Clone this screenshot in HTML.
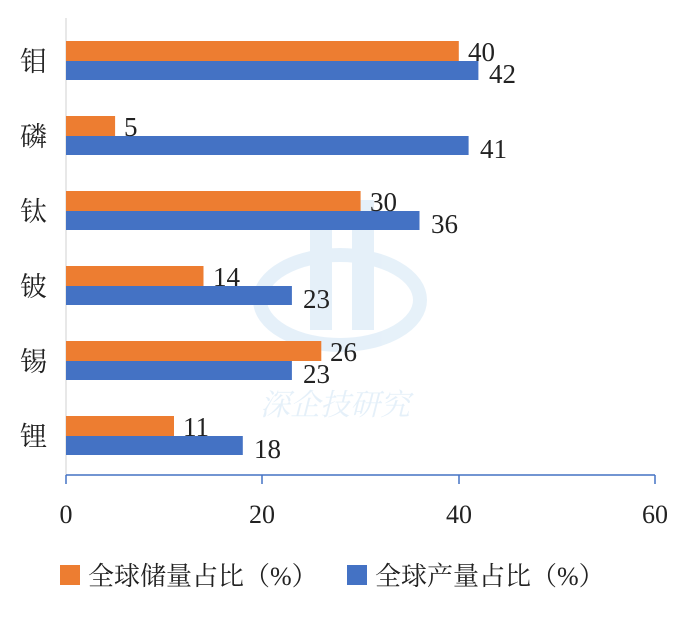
<!DOCTYPE html>
<html><head><meta charset="utf-8"><style>
body{margin:0;background:#fff;}
svg text{font-family:"Liberation Serif","Noto Serif CJK SC",serif;fill:#222;}
</style></head><body>
<svg width="681" height="615" viewBox="0 0 681 615" xmlns="http://www.w3.org/2000/svg">
<g opacity="0.15" fill="#5aa0d8">
<ellipse cx="340" cy="300" rx="80" ry="45" fill="none" stroke="#5aa0d8" stroke-width="14"/>
<rect x="310" y="200" width="22" height="130"/><rect x="352" y="200" width="22" height="130"/>
<text x="335" y="415" font-size="30" text-anchor="middle" style="fill:#5aa0d8;font-style:italic">深企技研究</text>
</g>
<line x1="66" y1="18" x2="66" y2="475" stroke="#d0d0d0" stroke-width="1"/>
<g fill="#ed7d31">
<rect x="66" y="41" width="392.8" height="20"/>
<rect x="66" y="116" width="49.1" height="20"/>
<rect x="66" y="191" width="294.6" height="20"/>
<rect x="66" y="266" width="137.5" height="20"/>
<rect x="66" y="341" width="255.3" height="20"/>
<rect x="66" y="416" width="108" height="20"/>
</g>
<g fill="#4472c4">
<rect x="66" y="61" width="412.4" height="19"/>
<rect x="66" y="136" width="402.6" height="19"/>
<rect x="66" y="211" width="353.5" height="19"/>
<rect x="66" y="286" width="225.9" height="19"/>
<rect x="66" y="361" width="225.9" height="19"/>
<rect x="66" y="436" width="176.8" height="19"/>
</g>
<g font-size="27">
<text x="468" y="61">40</text><text x="489" y="83">42</text>
<text x="124" y="136">5</text><text x="480" y="158">41</text>
<text x="370" y="211">30</text><text x="431" y="233">36</text>
<text x="213" y="286">14</text><text x="303" y="308">23</text>
<text x="330" y="361">26</text><text x="303" y="383">23</text>
<text x="183" y="436">11</text><text x="254" y="458">18</text>
</g>
<g font-size="27">
<text x="20" y="71">钼</text><text x="20" y="146">磷</text><text x="20" y="221">钛</text>
<text x="20" y="296">铍</text><text x="20" y="371">锡</text><text x="20" y="446">锂</text>
</g>
<line x1="66" y1="475" x2="655" y2="475" stroke="#4472c4" stroke-width="1.5"/>
<g stroke="#4472c4" stroke-width="1.5">
<line x1="66" y1="475" x2="66" y2="484"/><line x1="262" y1="475" x2="262" y2="484"/>
<line x1="459" y1="475" x2="459" y2="484"/><line x1="655" y1="475" x2="655" y2="484"/>
</g>
<g font-size="26" text-anchor="middle">
<text x="66" y="523">0</text><text x="262" y="523">20</text><text x="459" y="523">40</text><text x="655" y="523">60</text>
</g>
<rect x="60" y="565" width="20" height="20" fill="#ed7d31"/>
<text x="88" y="585" font-size="26">全球储量占比（%）</text>
<rect x="347" y="565" width="20" height="20" fill="#4472c4"/>
<text x="375" y="585" font-size="26">全球产量占比（%）</text>
</svg>
</body></html>
